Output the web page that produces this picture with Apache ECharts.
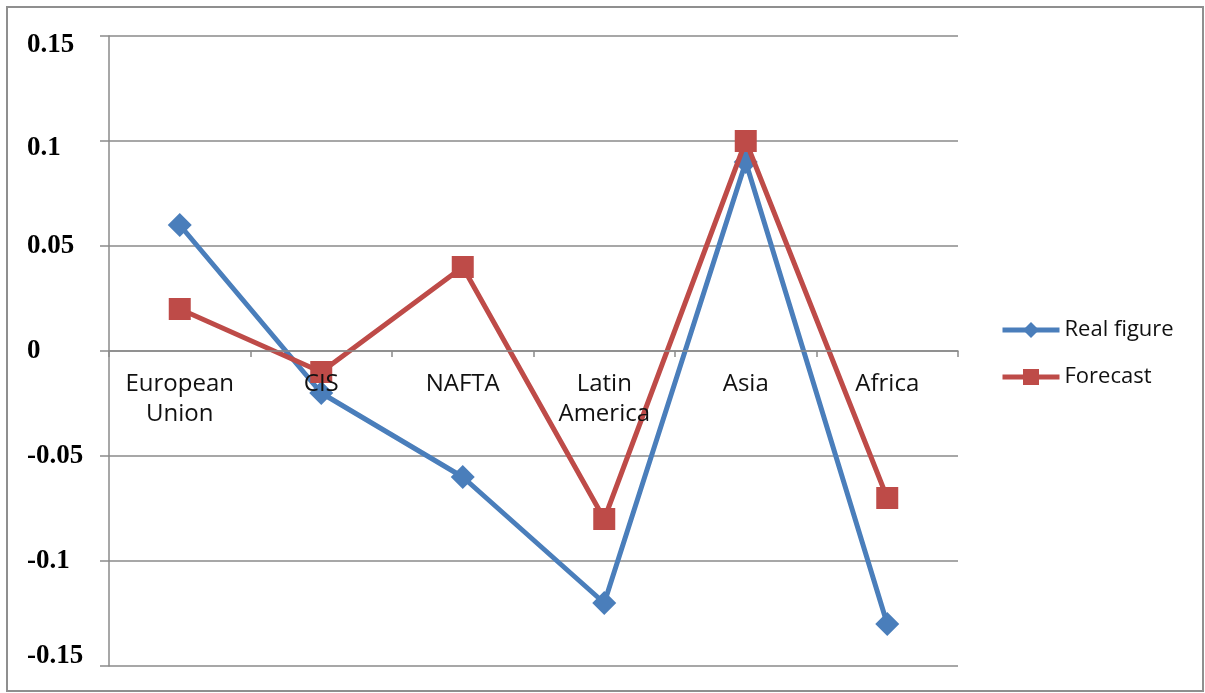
<!DOCTYPE html>
<html>
<head>
<meta charset="utf-8">
<script src="https://cdn.jsdelivr.net/npm/echarts@6/dist/echarts.min.js"></script>
<style>
html,body{margin:0;padding:0;background:#fff;}
#chart{width:1205px;height:693px;}
</style>
</head>
<body>
<div id="chart"></div>
<script>
const categories = ['European Union', 'CIS', 'NAFTA', 'Latin America', 'Asia', 'Africa'];
const realFigure = [0.06, -0.02, -0.06, -0.12, 0.09, -0.13];
const forecast = [0.02, -0.01, 0.04, -0.08, 0.10, -0.07];
const yTicks = [-0.15, -0.1, -0.05, 0, 0.05, 0.1, 0.15];

const chart = echarts.init(document.getElementById('chart'));
const gridColor = '#8a8a8a';
const gridTop = 36, gridBottom = 27, chartH = 693;
const plotH = chartH - gridTop - gridBottom;
const yMin = yTicks[0], yMax = yTicks[yTicks.length - 1];
// offset of the category axis so that it sits on the zero line
const zeroOffset = -plotH * (0 - yMin) / (yMax - yMin);

function yLabel(v) {
  const s = String(+v.toFixed(2));
  if (Math.abs(v - yTicks[yTicks.length - 1]) < 1e-9) return '{top|' + s + '}';
  if (Math.abs(v - yTicks[yTicks.length - 2]) < 1e-9) return '{top2|' + s + '}';
  if (Math.abs(v - yTicks[0]) < 1e-9) return '{bot|' + s + '}';
  return '{n|' + s + '}';
}
const yFont = { fontFamily: 'Liberation Serif', fontWeight: 'bold', fontSize: 27, color: '#000' };

chart.setOption({
  animation: false,
  backgroundColor: '#fff',
  graphic: [{
    type: 'rect',
    shape: { x: 7, y: 7, width: 1196, height: 684 },
    style: { fill: 'none', stroke: '#8f8f8f', lineWidth: 2 },
    silent: true,
    z: -10
  }],
  grid: { left: 109, right: 247, top: gridTop, bottom: gridBottom, containLabel: false, outerBoundsMode: 'none' },
  legend: {
    orient: 'vertical',
    left: 995,
    top: 314,
    itemWidth: 57,
    itemHeight: 20,
    itemGap: 25,
    textStyle: { fontFamily: 'Open Sans', fontSize: 22, color: '#111' },
    data: [
      { name: 'Real figure', lineStyle: { width: 5 } },
      { name: 'Forecast', lineStyle: { width: 5 } }
    ]
  },
  xAxis: {
    type: 'category',
    data: categories,
    boundaryGap: true,
    offset: zeroOffset,
    z: 10,
    axisLine: { onZero: false, lineStyle: { color: gridColor, width: 1.5 } },
    axisTick: { show: true, length: 6, inside: false, lineStyle: { color: gridColor, width: 1.5 } },
    axisLabel: {
      interval: 0,
      margin: 18,
      fontFamily: 'Open Sans',
      fontSize: 24,
      lineHeight: 30,
      color: '#111',
      formatter: v => v.replace(' ', '\n')
    },
    splitLine: { show: false }
  },
  yAxis: {
    type: 'value',
    min: yMin,
    max: yMax,
    interval: 0.05,
    axisLine: { show: true, lineStyle: { color: gridColor, width: 1.5 } },
    axisTick: { show: true, length: 9, lineStyle: { color: gridColor, width: 1.5 } },
    splitLine: { show: true, lineStyle: { color: gridColor, width: 1.5 } },
    axisLabel: {
      align: 'left',
      margin: 82,
      formatter: yLabel,
      rich: {
        n: Object.assign({}, yFont),
        top: Object.assign({ padding: [19, 0, 0, 0] }, yFont),
        top2: Object.assign({ padding: [14, 0, 0, 0] }, yFont),
        bot: Object.assign({ padding: [0, 0, 20, 0] }, yFont)
      }
    }
  },
  series: [
    {
      name: 'Real figure',
      type: 'line',
      data: realFigure,
      symbol: 'diamond',
      symbolSize: 24,
      lineStyle: { color: '#4a7ebb', width: 5 },
      itemStyle: { color: '#4a7ebb' },
      z: 2
    },
    {
      name: 'Forecast',
      type: 'line',
      data: forecast,
      symbol: 'rect',
      symbolSize: 22,
      lineStyle: { color: '#be4b48', width: 5 },
      itemStyle: { color: '#be4b48' },
      z: 3
    }
  ]
});
</script>
</body>
</html>
